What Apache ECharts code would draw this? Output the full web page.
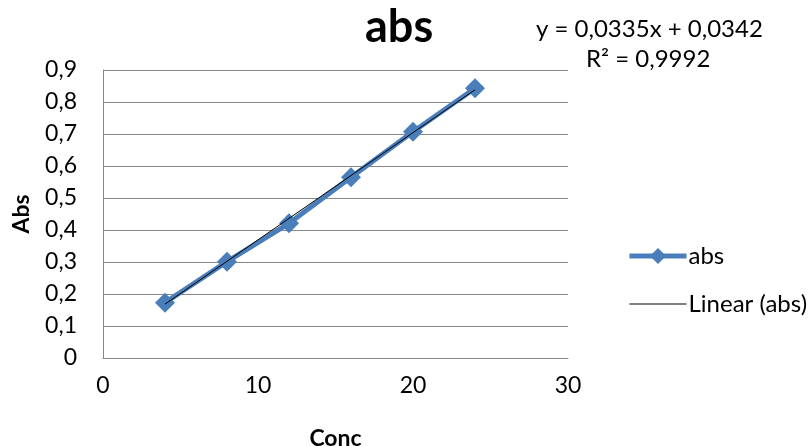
<!DOCTYPE html>
<html><head><meta charset="utf-8">
<script src="https://cdn.jsdelivr.net/npm/echarts@6/dist/echarts.min.js"></script>
<style>html,body{margin:0;padding:0;background:#fff}#c{width:811px;height:446px}</style>
</head><body><div id="c"></div>
<script>
const conc = [4, 8, 12, 16, 20, 24];
const absValues = [0.173, 0.301, 0.421, 0.565, 0.707, 0.843];
const trendX = [4, 24];
const trendY = [0.1682, 0.8382];
const xTicks = [0, 10, 20, 30];
const yTicks = [0, 0.1, 0.2, 0.3, 0.4, 0.5, 0.6, 0.7, 0.8, 0.9];
const eqText = 'y = 0,0335x + 0,0342';
const r2Text = 'R² = 0,9992';

const FONT = 'Lato';
const BLUE = '#4A7EBB';
const chart = echarts.init(document.getElementById('c'));
chart.setOption({
  animation: false,
  backgroundColor: '#fff',
  textStyle: { fontFamily: FONT },
  title: {
    text: 'abs', left: 360, top: 0,
    textStyle: { fontFamily: FONT, fontSize: 45, fontWeight: 'bold', color: '#000' }
  },
  graphic: [
    { type: 'text', left: 536, top: 17, style: { text: eqText, font: '24px Lato', fill: '#000' } },
    { type: 'text', left: 586, top: 47, style: { text: r2Text, font: '24px Lato', fill: '#000' } }
  ],
  legend: {
    orient: 'vertical', left: 622, top: 239, itemGap: 24,
    itemWidth: 57, itemHeight: 20,
    textStyle: { fontFamily: FONT, fontSize: 24, lineHeight: 24, color: '#000', padding: [0, 0, 0, -3] },
    data: [
      { name: 'abs', lineStyle: { width: 5 } },
      { name: 'Linear (abs)', itemStyle: { opacity: 0 }, lineStyle: { width: 1 } }
    ]
  },
  grid: { left: 103, right: 243, top: 70, bottom: 88, containLabel: false, outerBoundsMode: 'none' },
  xAxis: {
    type: 'value', min: 0, max: 30, interval: 10,
    name: 'Conc', nameLocation: 'middle', nameGap: 69,
    nameTextStyle: { fontFamily: FONT, fontSize: 23, fontWeight: 'bold', color: '#000' },
    axisLine: { show: true, lineStyle: { color: '#878787', width: 1 } },
    axisTick: { show: false },
    axisLabel: { margin: 16, fontSize: 23, color: '#000', fontFamily: FONT },
    splitLine: { show: false }
  },
  yAxis: {
    type: 'value', min: 0, max: 0.9, interval: 0.1,
    name: 'Abs', nameLocation: 'middle', nameGap: 70, nameRotate: 90,
    nameTextStyle: { fontFamily: FONT, fontSize: 23, fontWeight: 'bold', color: '#000' },
    axisLine: { show: true, lineStyle: { color: '#878787', width: 1 } },
    axisTick: { show: false },
    axisLabel: { margin: 26, fontSize: 23, color: '#000', fontFamily: FONT,
      formatter: v => String(Math.round(v * 10) / 10).replace('.', ',') },
    splitLine: { show: true, lineStyle: { color: '#878787', width: 1 } }
  },
  series: [
    {
      name: 'abs', type: 'line',
      data: conc.map((x, i) => [x, absValues[i]]),
      lineStyle: { color: BLUE, width: 5 },
      itemStyle: { color: BLUE },
      symbol: 'diamond', symbolSize: 20, z: 2
    },
    {
      name: 'Linear (abs)', type: 'line',
      data: trendX.map((x, i) => [x, trendY[i]]),
      lineStyle: { color: '#000', width: 1 },
      itemStyle: { color: '#000' },
      symbol: 'none', z: 3
    }
  ]
});
</script></body></html>
